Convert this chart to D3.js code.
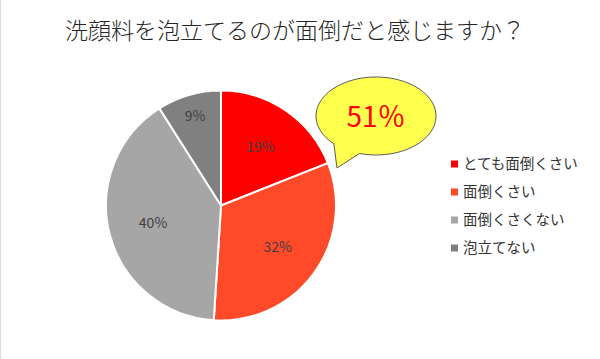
<!DOCTYPE html>
<html>
<head>
<meta charset="utf-8">
<script src="https://cdn.jsdelivr.net/npm/d3@7"></script>
<style>
  body { margin: 0; background: #fff; }
  svg { display: block; font-family: "Noto Sans CJK JP", "Noto Sans", sans-serif; }
</style>
</head>
<body>
<div id="chart"></div>
<script>
// data
const categories = ["とても面倒くさい", "面倒くさい", "面倒くさくない", "泡立てない"];
const values = [19, 32, 40, 9];
const colors = ["#FF0000", "#FF4A2A", "#A6A6A6", "#808080"];
const title = "洗顔料を泡立てるのが面倒だと感じますか？";
const calloutText = "51％";

const width = 600, height = 359;
const cx = 221, cy = 205.5, radius = 115;

const svg = d3.select("#chart").append("svg")
  .attr("width", width)
  .attr("height", height);

// faint frame line on the left edge
svg.append("line")
  .attr("x1", 0.5).attr("x2", 0.5)
  .attr("y1", 0).attr("y2", height)
  .attr("stroke", "#d9d9d9");

// title
svg.append("text")
  .attr("x", 295)
  .attr("y", 39)
  .attr("text-anchor", "middle")
  .style("font-size", "23px")
  .style("font-weight", 300)
  .style("fill", "#262626")
  .text(title);

// pie
const pie = d3.pie().sort(null).value(d => d)(values);
const arc = d3.arc().innerRadius(0).outerRadius(radius);
// small slices get their label pushed further out, like excel's best fit
const labelRadius = d => (d.data < 10 ? 0.81 : 0.61) * radius;

const g = svg.append("g").attr("transform", `translate(${cx}, ${cy})`);

g.selectAll(".slice")
  .data(pie)
  .enter()
  .append("path")
    .attr("class", "slice")
    .attr("d", arc)
    .style("fill", (d, i) => colors[i])
    .style("stroke", "#fff")
    .style("stroke-width", 2);

g.selectAll(".label")
  .data(pie)
  .enter()
  .append("text")
    .attr("class", "label")
    .attr("transform", d => {
      const r = labelRadius(d);
      return `translate(${d3.arc().innerRadius(r).outerRadius(r).centroid(d)})`;
    })
    .attr("text-anchor", "middle")
    .attr("dy", "0.35em")
    .style("font-size", "14px")
    .style("fill", "#404040")
    .text(d => d.data + "%");

// speech bubble callout
const bx = 376, by = 116, rx = 60, ry = 39;
const toXY = a => [bx + rx * Math.cos(a), by + ry * Math.sin(a)];
const a1 = 2.35, a2 = 1.85;
const p1 = toXY(a1), p2 = toXY(a2);
const tip = [337, 168];
const bubble = d3.path();
bubble.moveTo(p2[0], p2[1]);
bubble.lineTo(tip[0], tip[1]);
bubble.lineTo(p1[0], p1[1]);
// go around the ellipse from a1 to a2 (the long way)
const steps = 80;
for (let k = 1; k <= steps; k++) {
  const a = a1 + (2 * Math.PI - (a1 - a2)) * k / steps;
  const p = toXY(a);
  bubble.lineTo(p[0], p[1]);
}
bubble.closePath();

svg.append("path")
  .attr("d", bubble.toString())
  .style("fill", "#FFFF4D")
  .style("stroke", "#595959")
  .style("stroke-width", 1);

svg.append("text")
  .attr("x", bx)
  .attr("y", by + 11)
  .attr("text-anchor", "middle")
  .style("font-size", "28px")
  .style("fill", "#FF0000")
  .text(calloutText);

// legend
const legend = svg.append("g").attr("transform", "translate(451, 164)");
const rowY = d3.scalePoint().domain(categories).range([0, 84]);

const rows = legend.selectAll(".legend-row")
  .data(categories)
  .enter()
  .append("g")
    .attr("class", "legend-row")
    .attr("transform", d => `translate(0, ${rowY(d)})`);

rows.append("rect")
  .attr("x", 0).attr("y", -3.5)
  .attr("width", 7).attr("height", 7)
  .style("fill", (d, i) => colors[i]);

rows.append("text")
  .attr("x", 12)
  .attr("dy", "0.36em")
  .style("font-size", "14.5px")
  .style("fill", "#333")
  .text(d => d);
</script>
</body>
</html>
